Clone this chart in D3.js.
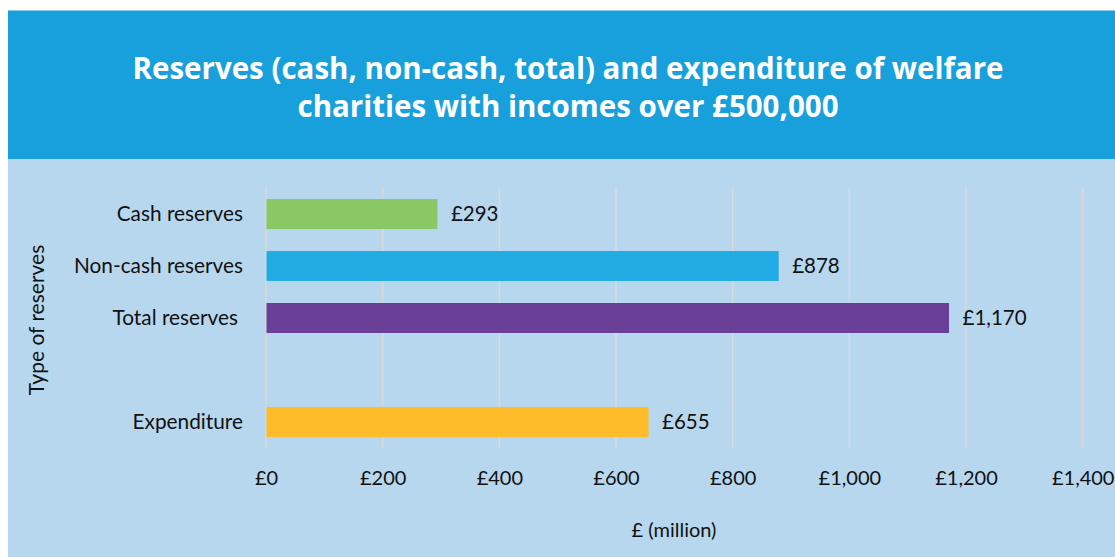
<!DOCTYPE html>
<meta charset="utf-8">
<style>
body { margin: 0; background: #fff; }
svg { display: block; }
text { font-family: Lato, "Open Sans", sans-serif; fill: #111; }
.title { font-family: "Open Sans", sans-serif; font-weight: 700; fill: #fff; }
</style>
<svg width="1115" height="557"></svg>
<script src="https://d3js.org/d3.v7.min.js"></script>
<script>

var categories = ["Cash reserves", "Non-cash reserves", "Total reserves", "Expenditure"];
var values = [293, 878, 1170, 655];
var barColors = ["#89c865", "#21ade3", "#6a3f98", "#febb2a"];
var ticks = [0, 200, 400, 600, 800, 1000, 1200, 1400];
var titleLines = ["Reserves (cash, non-cash, total) and expenditure of welfare",
                  "charities with incomes over £500,000"];

var svg = d3.select("svg"),
    width = +svg.attr("width"),
    height = +svg.attr("height");

// header and chart panel
svg.append("rect").attr("x", 8).attr("y", 10).attr("width", width - 8).attr("height", 149).attr("fill", "#17a0db");
svg.append("rect").attr("x", 8).attr("y", 10).attr("width", width - 8).attr("height", 1).attr("fill", "#8fcbec");
svg.append("rect").attr("x", 8).attr("y", 159).attr("width", width - 8).attr("height", height - 159).attr("fill", "#b7d7ef");

svg.selectAll("text.title")
  .data(titleLines)
  .enter().append("text")
    .attr("class", "title")
    .attr("x", 568)
    .attr("y", function(d, i) { return 79 + i * 38; })
    .attr("text-anchor", "middle")
    .style("font-size", "29.5px")
    .text(function(d) { return d; });

var x = d3.scaleLinear().domain([0, 1400]).range([266, 1082.7]);

// a blank slot sits between the reserves and expenditure
var slots = categories.slice(0, 3).concat(["gap"], categories.slice(3));
var y = d3.scaleBand().domain(slots).range([188, 448]).paddingInner(0.423).paddingOuter(0.212);

svg.append("g")
  .selectAll("line")
  .data(ticks)
  .enter().append("line")
    .attr("x1", function(d) { return x(d); })
    .attr("x2", function(d) { return x(d); })
    .attr("y1", 188)
    .attr("y2", 448)
    .attr("stroke", "#d9d9d9")
    .attr("stroke-width", 1.5);

var data = categories.map(function(c, i) { return {name: c, value: values[i], color: barColors[i]}; });

svg.append("g")
  .selectAll("rect")
  .data(data)
  .enter().append("rect")
    .attr("x", x(0) + 0.5)
    .attr("y", function(d) { return y(d.name); })
    .attr("width", function(d) { return x(d.value) - x(0); })
    .attr("height", y.bandwidth())
    .attr("fill", function(d) { return d.color; });

var fmt = d3.format(",");

svg.append("g")
  .selectAll("text")
  .data(data)
  .enter().append("text")
    .attr("x", function(d) { return x(d.value) + 14; })
    .attr("y", function(d) { return y(d.name) + y.bandwidth() / 2; })
    .attr("dy", "0.35em")
    .style("font-size", "20.5px")
    .text(function(d) { return "£" + fmt(d.value); });

// category labels
svg.append("g")
  .selectAll("text")
  .data(data)
  .enter().append("text")
    .attr("x", function(d) { return d.name == "Total reserves" ? 238 : 243; })
    .attr("y", function(d) { return y(d.name) + y.bandwidth() / 2; })
    .attr("dy", "0.35em")
    .attr("text-anchor", "end")
    .style("font-size", "20.8px")
    .text(function(d) { return d.name; });

// x axis
var xAxis = svg.append("g")
  .attr("transform", "translate(0,468)")
  .call(d3.axisBottom(x).tickValues(ticks).tickSize(0).tickFormat(function(d) { return "£" + fmt(d); }));
xAxis.select(".domain").remove();
xAxis.selectAll("text")
  .attr("dy", "0.35em")
  .attr("y", 10)
  .style("font-family", "Lato, sans-serif")
  .style("font-size", "20px")
  .attr("fill", "#111");

svg.append("text")
  .attr("x", 674)
  .attr("y", 530)
  .attr("dy", "0.35em")
  .attr("text-anchor", "middle")
  .style("font-size", "20px")
  .text("£ (million)");

svg.append("text")
  .attr("transform", "translate(37,320) rotate(-90)")
  .attr("dy", "0.35em")
  .attr("text-anchor", "middle")
  .style("font-size", "21px")
  .text("Type of reserves");

</script>
